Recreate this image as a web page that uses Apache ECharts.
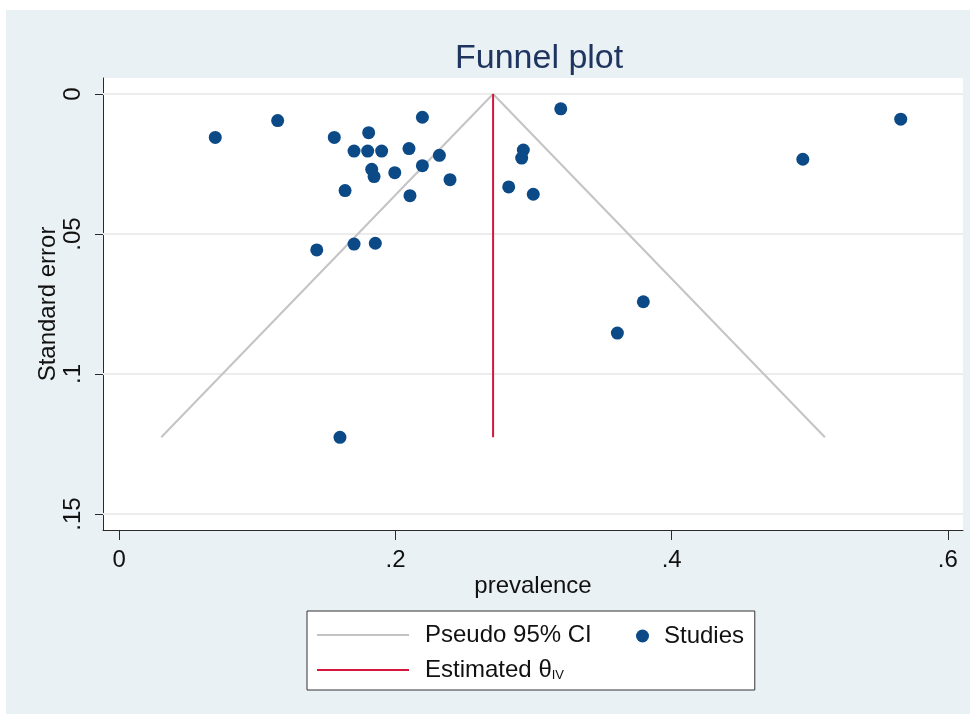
<!DOCTYPE html>
<html>
<head>
<meta charset="utf-8">
<script src="https://cdn.jsdelivr.net/npm/echarts@6/dist/echarts.min.js"></script>
<style>
  html, body { margin: 0; padding: 0; background: #ffffff; }
  #wrap { position: relative; width: 976px; height: 720px; }
  #bg { position: absolute; left: 6px; top: 10px; width: 964px; height: 704px; background: #e9f1f4; }
  #chart { position: absolute; left: 0; top: 0; width: 976px; height: 720px; }
</style>
</head>
<body>
<div id="wrap"><div id="bg"></div><div id="chart"></div></div>
<script>
// ---- data ----
const studyPrevalence = [0.0695, 0.1147, 0.1557, 0.1806, 0.2195, 0.1700, 0.1799, 0.1900, 0.2098, 0.2318,
                         0.2195, 0.1828, 0.1845, 0.1995, 0.2395, 0.1635, 0.2105, 0.1430, 0.1700, 0.1854,
                         0.1598, 0.3197, 0.2926, 0.2914, 0.2820, 0.2998, 0.4950, 0.5659, 0.3795, 0.3607];
const studySE         = [0.0155, 0.0095, 0.0155, 0.0138, 0.0083, 0.0204, 0.0204, 0.0204, 0.0195, 0.0219,
                         0.0256, 0.0269, 0.0295, 0.0281, 0.0306, 0.0345, 0.0363, 0.0557, 0.0536, 0.0533,
                         0.1226, 0.0053, 0.0200, 0.0229, 0.0332, 0.0358, 0.0233, 0.0090, 0.0742, 0.0854];
const ciX = [0.0304, 0.2707, 0.5110];   // pseudo 95% CI funnel vertices
const ciY = [0.1226, 0.0000, 0.1226];
const thetaX = [0.2707, 0.2707];        // estimated theta_IV line
const thetaY = [0.0000, 0.1226];
const xTicks = [0, 0.2, 0.4, 0.6];
const xTickLabels = ['0', '.2', '.4', '.6'];
const yTicks = [0, 0.05, 0.1, 0.15];
const yTickLabels = ['0', '.05', '.1', '.15'];
const seriesNames = ['Pseudo 95% CI', 'Estimated θIV', 'Studies'];

const FONT = 'Liberation Sans, Arial, sans-serif';
const chart = echarts.init(document.getElementById('chart'), null, { renderer: 'canvas' });

const zip = (a, b) => a.map((v, i) => [v, b[i]]);

const option = {
  animation: false,
  backgroundColor: 'transparent',
  title: {
    text: 'Funnel plot',
    left: 450, top: 37,
    textStyle: { fontFamily: FONT, fontSize: 34, fontWeight: 'normal', color: '#1f3560' }
  },
  grid: {
    left: 103, right: 13, top: 78, bottom: 190,
    show: true, backgroundColor: '#ffffff', borderWidth: 0
  },
  xAxis: {
    type: 'value', min: -0.0118, max: 0.611,
    name: 'prevalence', nameLocation: 'middle', nameGap: 44, nameMoveOverlap: false,
    nameTextStyle: { fontFamily: FONT, fontSize: 24, color: '#111' },
    axisLine: { show: true, onZero: false, lineStyle: { color: '#2a2a2a', width: 1 } },
    axisTick: { show: true, length: 10, customValues: xTicks, lineStyle: { color: '#2a2a2a' } },
    axisLabel: {
      show: true, margin: 18, customValues: xTicks,
      fontFamily: FONT, fontSize: 24, color: '#111',
      formatter: v => { const i = xTicks.findIndex(t => Math.abs(t - v) < 1e-9); return i >= 0 ? xTickLabels[i] : ''; }
    },
    splitLine: { show: false }
  },
  yAxis: {
    type: 'value', inverse: true, min: -0.005714, max: 0.155714,
    name: 'Standard error', nameLocation: 'middle', nameGap: 43, nameRotate: 90, nameMoveOverlap: false,
    nameTextStyle: { fontFamily: FONT, fontSize: 24, color: '#111' },
    axisLine: { show: true, onZero: false, lineStyle: { color: '#2a2a2a', width: 1 } },
    axisTick: { show: true, length: 8, customValues: yTicks, lineStyle: { color: '#2a2a2a' } },
    axisLabel: {
      show: true, rotate: 90, margin: 18, customValues: yTicks,
      fontFamily: FONT, fontSize: 24, color: '#111',
      formatter: v => { const i = yTicks.findIndex(t => Math.abs(t - v) < 1e-9); return i >= 0 ? yTickLabels[i] : ''; }
    },
    splitLine: { show: false }
  },
  legend: [
    {
      data: [
        { name: seriesNames[0], icon: 'rect' },
        { name: seriesNames[1], icon: 'rect' }
      ],
      orient: 'vertical', left: 307, top: 611,
      padding: [12, 163, 8, 10], itemGap: 11,
      itemWidth: 92, itemHeight: 2,
      backgroundColor: '#ffffff', borderColor: '#333333', borderWidth: 1,
      selectedMode: false,
      textStyle: {
        fontFamily: FONT, fontSize: 24, color: '#111', padding: [0, 0, 0, 11],
        rich: {
          m: { fontFamily: FONT, fontSize: 24, color: '#111' },
          s: { fontFamily: FONT, fontSize: 13, color: '#111', verticalAlign: 'bottom', padding: [8, 0, 0, 0] }
        }
      },
      formatter: name => name === 'Estimated θIV' ? '{m|Estimated θ}{s|IV}' : name
    },
    {
      data: [seriesNames[2]],
      orient: 'horizontal', left: 636, top: 624,
      padding: 0, itemWidth: 13, itemHeight: 13, z: 6,
      selectedMode: false,
      textStyle: { fontFamily: FONT, fontSize: 24, color: '#111', padding: [0, 0, 0, 10] }
    }
  ],
  series: [
    {
      name: seriesNames[0], type: 'line', data: zip(ciX, ciY),
      symbol: 'none', z: 2, silent: true,
      lineStyle: { color: '#c4c4c4', width: 2 },
      itemStyle: { color: '#c4c4c4' },
      markLine: {
        silent: true, symbol: 'none', label: { show: false }, z: 1,
        lineStyle: { color: '#ececec', width: 2, type: 'solid' },
        data: yTicks.map(v => ({ yAxis: v }))
      }
    },
    {
      name: seriesNames[1], type: 'line', data: zip(thetaX, thetaY),
      symbol: 'none', z: 3, silent: true,
      lineStyle: { color: '#d4163c', width: 2 },
      itemStyle: { color: '#d4163c' }
    },
    {
      name: seriesNames[2], type: 'scatter', data: zip(studyPrevalence, studySE),
      symbol: 'circle', symbolSize: 13, z: 4, silent: true,
      itemStyle: { color: '#0b4a86', opacity: 1 }
    }
  ]
};
chart.setOption(option);
</script>
</body>
</html>
